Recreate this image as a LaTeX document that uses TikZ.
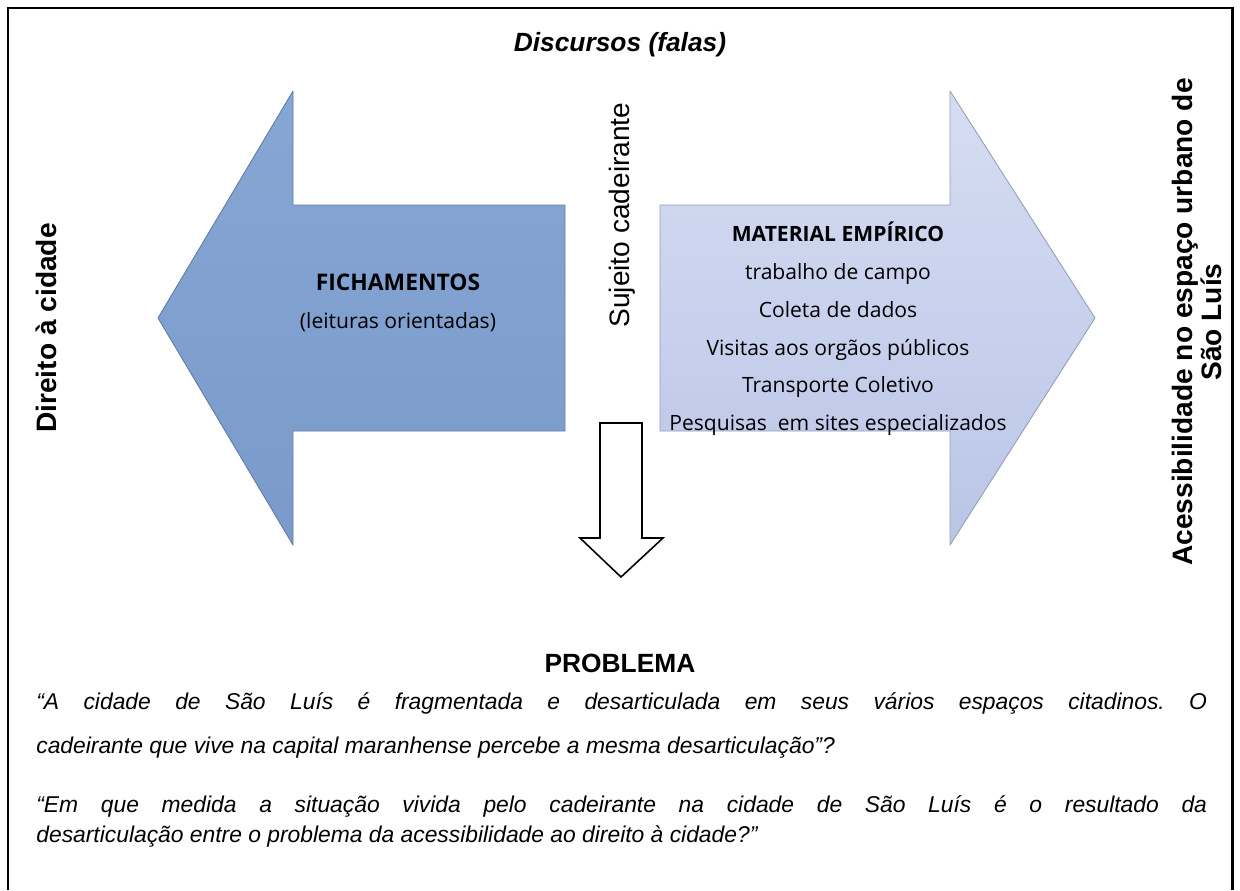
\documentclass[tikz,border=0pt]{standalone}
\usepackage{fontspec}
\setmainfont{Liberation Sans}
\newfontfamily\handfont{Open Sans}
\usepackage{xcolor}
\usetikzlibrary{positioning, calc}
\frenchspacing

\definecolor{leftblue}{RGB}{122,154,203}
\definecolor{leftlight}{RGB}{134,166,212}
\definecolor{rightblue}{RGB}{186,197,231}
\definecolor{rightlight}{RGB}{214,221,242}

\begin{document}
\begin{tikzpicture}[x=0.02cm, y=-0.02cm,
    % Text styles
    titlelab/.style={font=\fontsize{15pt}{18pt}\selectfont\bfseries\itshape},
    sidelab/.style={font=\fontsize{16pt}{17pt}\selectfont\bfseries, rotate=90, anchor=center, align=center},
    midlab/.style={font=\fontsize{16pt}{18pt}\selectfont, rotate=90, anchor=center},
    arrowtext/.style={font=\handfont\fontsize{12pt}{21.5pt}\selectfont, align=center},
    quotebox/.style={text width=23.42cm, align=justify, inner sep=0pt, anchor=north west},
    % Shape styles
    leftarrow/.style={top color=leftlight, bottom color=leftblue, draw=leftblue!80!black, line width=0.5pt, line join=round},
    rightarrow/.style={top color=rightlight, bottom color=rightblue, draw=rightblue!80!black, line width=0.5pt, line join=round},
    downarrow/.style={draw=black, line width=0.9pt, fill=white}
]
\useasboundingbox (0,0) rectangle (1240,890);

% Frame (open at the bottom)
\draw[line width=1.7pt] (8,890) -- (8,8) -- (1232,8) -- (1232,890);

% === TOP ===
\node[titlelab] (discursos) at (620,45) {Discursos (falas)};

% === ARROWS ===
\path[leftarrow] (158,318) -- (293,91) -- (293,205) -- (565,205) -- (565,431) -- (293,431) -- (293,545) -- cycle;
\path[rightarrow] (660,205) -- (950,205) -- (950,91) -- (1095,318) -- (950,545) -- (950,431) -- (660,431) -- cycle;

\node[arrowtext] (fich) at (398,303) {\textbf{\fontsize{13pt}{21.5pt}\selectfont FICHAMENTOS}\\(leituras orientadas)};
\node[arrowtext] (material) at (838,329) {\textbf{MATERIAL EMPÍRICO}\\trabalho de campo\\Coleta de dados\\Visitas aos orgãos públicos\\Transporte Coletivo\\Pesquisas\ \ em sites especializados};

% Side labels
\node[sidelab] (direito) at (46,328) {Direito à cidade};
\node[midlab] (sujeito) at (622,215) {Sujeito cadeirante};
\node[sidelab] (acess) at (1197,322) {Acessibilidade no espaço urbano de\\São Luís};

% Down arrow
\draw[downarrow] (600,423) -- (642,423) -- (642,538) -- (663,538) -- (621,577) -- (580,538) -- (600,538) -- cycle;

% === PROBLEMA ===
\node[font=\fontsize{15pt}{17pt}\selectfont\bfseries] (problema) at (620,663) {PROBLEMA};

\node[quotebox, font=\fontsize{13pt}{25.5pt}\selectfont\itshape] (quote1) at (36,692) {“A cidade de São Luís é fragmentada e desarticulada em seus vários espaços citadinos. O\linebreak cadeirante que vive na capital maranhense percebe a mesma desarticulação”?};
\node[quotebox, font=\fontsize{13pt}{17pt}\selectfont\itshape] (quote2) at (36,795) {“Em que medida a situação vivida pelo cadeirante na cidade de São Luís é o resultado da\linebreak desarticulação entre o problema da acessibilidade ao direito à cidade?”};

\end{tikzpicture}
\end{document}
